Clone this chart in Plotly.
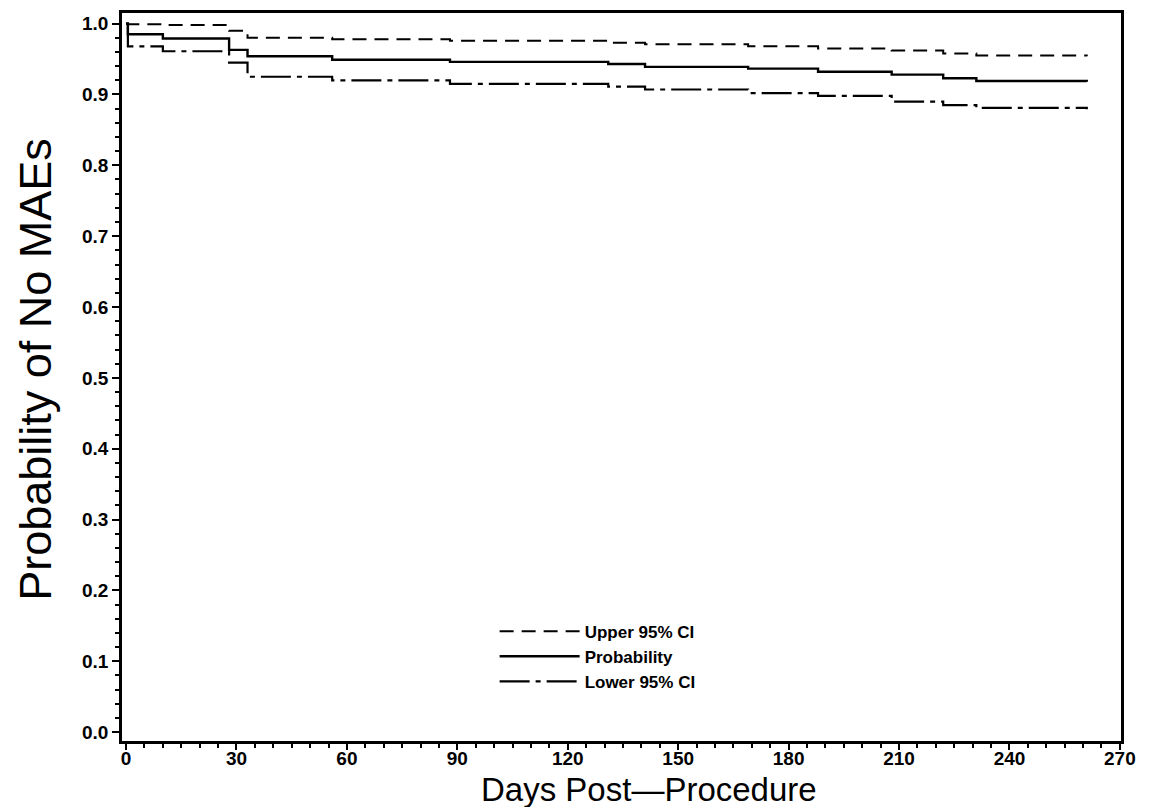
import plotly.graph_objects as go

# Event times (days) and Kaplan-Meier estimates
days = [0, 0.5, 10, 28, 33, 56, 88, 131, 141, 169, 188, 208, 222, 231, 261]
probability = [1.0, 0.985, 0.979, 0.963, 0.954, 0.949, 0.946, 0.943, 0.939,
               0.9365, 0.932, 0.928, 0.923, 0.919, 0.918]
upper_ci = [1.0, 0.999, 0.998, 0.99, 0.98, 0.978, 0.976, 0.973, 0.971,
            0.968, 0.965, 0.962, 0.958, 0.955, 0.954]
lower_ci = [1.0, 0.968, 0.961, 0.945, 0.925, 0.920, 0.915, 0.911, 0.907,
            0.902, 0.898, 0.890, 0.885, 0.881, 0.879]

x_ticks = [0, 30, 60, 90, 120, 150, 180, 210, 240, 270]
y_ticks = [0.0, 0.1, 0.2, 0.3, 0.4, 0.5, 0.6, 0.7, 0.8, 0.9, 1.0]
y_tick_labels = ["0.0", "0.1", "0.2", "0.3", "0.4", "0.5", "0.6", "0.7", "0.8", "0.9", "1.0"]

x_title = "Days Post\u2014Procedure"
y_title = "Probability of No MAEs"

FONT = "Liberation Sans"

fig = go.Figure()
fig.add_trace(go.Scatter(x=days, y=upper_ci, mode="lines", name="Upper 95% CI",
                         line=dict(color="black", width=2, dash="14px,8px", shape="hv")))
fig.add_trace(go.Scatter(x=days, y=probability, mode="lines", name="Probability",
                         line=dict(color="black", width=2.4, shape="hv")))
fig.add_trace(go.Scatter(x=days, y=lower_ci, mode="lines", name="Lower 95% CI",
                         line=dict(color="black", width=2.2, dash="30px,6px,5px,6px", shape="hv")))

fig.update_layout(
    width=1153, height=807,
    margin=dict(l=114, r=40, t=2, b=74),
    paper_bgcolor="white", plot_bgcolor="white",
    showlegend=True,
    legend=dict(x=0.373, y=0.175, xanchor="left", yanchor="top",
                bgcolor="rgba(0,0,0,0)", borderwidth=0,
                font=dict(family=FONT, size=17, color="black", weight="bold"),
                tracegroupgap=0, itemwidth=80),
    font=dict(family=FONT, color="black"),
)

fig.update_xaxes(
    range=[-1.1, 270.3], tickmode="array", tickvals=x_ticks,
    ticks="outside", ticklen=6, tickwidth=2, tickcolor="black",
    minor=dict(ticks="outside", ticklen=4, tickwidth=1.5, tickcolor="black", dtick=5),
    showline=True, linewidth=2.5, linecolor="black", mirror=True,
    showgrid=False, zeroline=False, ticklabelstandoff=-8,
    tickfont=dict(family=FONT, size=19, color="black", weight="bold"),
)
fig.update_yaxes(
    range=[-0.0126, 1.015], tickmode="array", tickvals=y_ticks, ticktext=y_tick_labels,
    ticks="outside", ticklen=7, tickwidth=2, tickcolor="black",
    minor=dict(ticks="outside", ticklen=4, tickwidth=1.5, tickcolor="black", dtick=0.02),
    showline=True, linewidth=2.8, linecolor="black", mirror=True,
    showgrid=False, zeroline=False,
    tickfont=dict(family=FONT, size=19, color="black", weight="bold"),
)

# axis titles placed as annotations to match the scan's positions
fig.add_annotation(text=x_title, xref="paper", yref="paper", x=0.528, y=-0.066,
                   xanchor="center", yanchor="middle", showarrow=False,
                   font=dict(family=FONT, size=33, color="black"))
fig.add_annotation(text=y_title, xref="paper", yref="paper", x=-0.086, y=0.51,
                   xanchor="center", yanchor="middle", showarrow=False, textangle=-90,
                   font=dict(family=FONT, size=45, color="black"))

# scanned underline beneath the x-axis title
fig.add_shape(type="line", xref="paper", yref="paper",
              x0=-0.099, x1=0.817, y0=-0.095, y1=-0.095,
              line=dict(color="black", width=2))

fig.write_html("out.html")
